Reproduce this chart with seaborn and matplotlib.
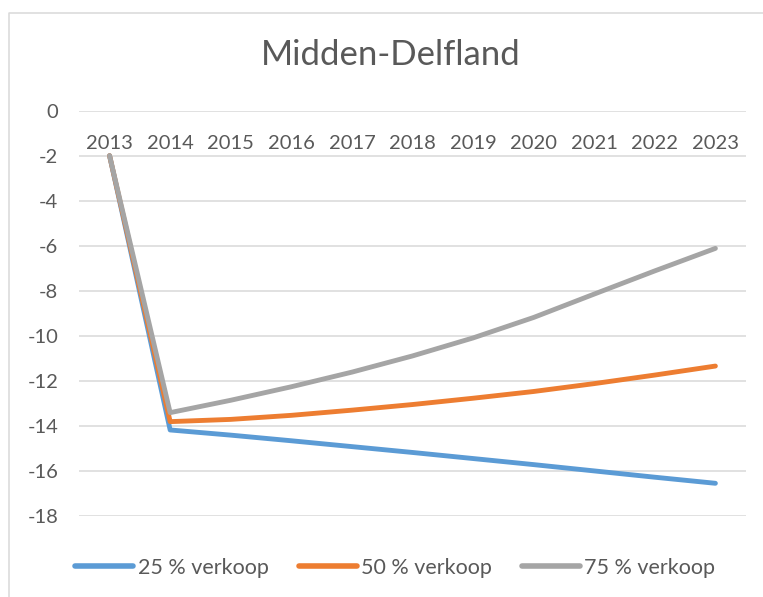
import pandas as pd
import matplotlib.pyplot as plt
import matplotlib.lines as mlines
import seaborn as sns

# data
years = [2013, 2014, 2015, 2016, 2017, 2018, 2019, 2020, 2021, 2022, 2023]
verkoop_25 = [-2.0, -14.19, -14.42, -14.67, -14.93, -15.19, -15.46, -15.73, -16.01, -16.29, -16.56]
verkoop_50 = [-2.0, -13.82, -13.72, -13.54, -13.31, -13.06, -12.78, -12.48, -12.13, -11.75, -11.35]
verkoop_75 = [-2.0, -13.42, -12.87, -12.27, -11.62, -10.90, -10.10, -9.19, -8.15, -7.12, -6.12]
series_names = ['25 % verkoop', '50 % verkoop', '75 % verkoop']
colors = ['#5B9BD5', '#ED7D31', '#A5A5A5']
y_ticks = [0, -2, -4, -6, -8, -10, -12, -14, -16, -18]

df = pd.DataFrame({
    'jaar': years * 3,
    'waarde': verkoop_25 + verkoop_50 + verkoop_75,
    'scenario': [s for s in series_names for _ in years],
})

sns.set_theme(style='white')
plt.rcParams['font.family'] = ['Lato', 'DejaVu Sans']
text_col = '#595959'

fig = plt.figure(figsize=(7.63, 5.97), dpi=100)
ax = fig.add_axes([0.1039, 0.1362, 0.8734, 0.6784])

sns.lineplot(data=df, x='jaar', y='waarde', hue='scenario', palette=colors,
             linewidth=3.5, ax=ax, legend=False, solid_capstyle='round')

ax.set_xlim(2012.5, 2023.5)
ax.set_ylim(-18, 0)
ax.set_yticks(y_ticks)
ax.set_yticklabels([str(v) for v in y_ticks])
ax.set_xticks(years)
ax.set_xticklabels([str(y) for y in years])
ax.yaxis.grid(True, color='#D9D9D9', linewidth=1.1)
ax.set_axisbelow(True)
for s in ax.spines.values():
    s.set_visible(False)
ax.set_xlabel('')
ax.set_ylabel('')
ax.tick_params(axis='x', length=0, labelbottom=False, labeltop=True, pad=-29.5,
               labelsize=14.5, labelcolor=text_col)
ax.tick_params(axis='y', length=0, pad=15, labelsize=14.5, labelcolor=text_col)

fig.text(0.512, 1 - 55 / 597, 'Midden-Delfland', ha='center', va='center',
         fontsize=25, color=text_col)

handles = [mlines.Line2D([], [], color=c, linewidth=4, solid_capstyle='round') for c in colors]
fig.legend(handles, series_names, loc='center', bbox_to_anchor=(0.518, 1 - 568 / 597),
           ncol=3, frameon=False, fontsize=15.5, labelcolor=text_col,
           handlelength=2.7, handletextpad=0.2, columnspacing=1.4)

# chart border (top and left edges visible in the screenshot)
fig.add_artist(mlines.Line2D([8.5 / 763, 8.5 / 763, 1.0], [0.0, 1 - 12.5 / 597, 1 - 12.5 / 597],
                             transform=fig.transFigure, color='#D9D9D9', linewidth=1.1))

fig.savefig('out.png', dpi=100, facecolor='white')
